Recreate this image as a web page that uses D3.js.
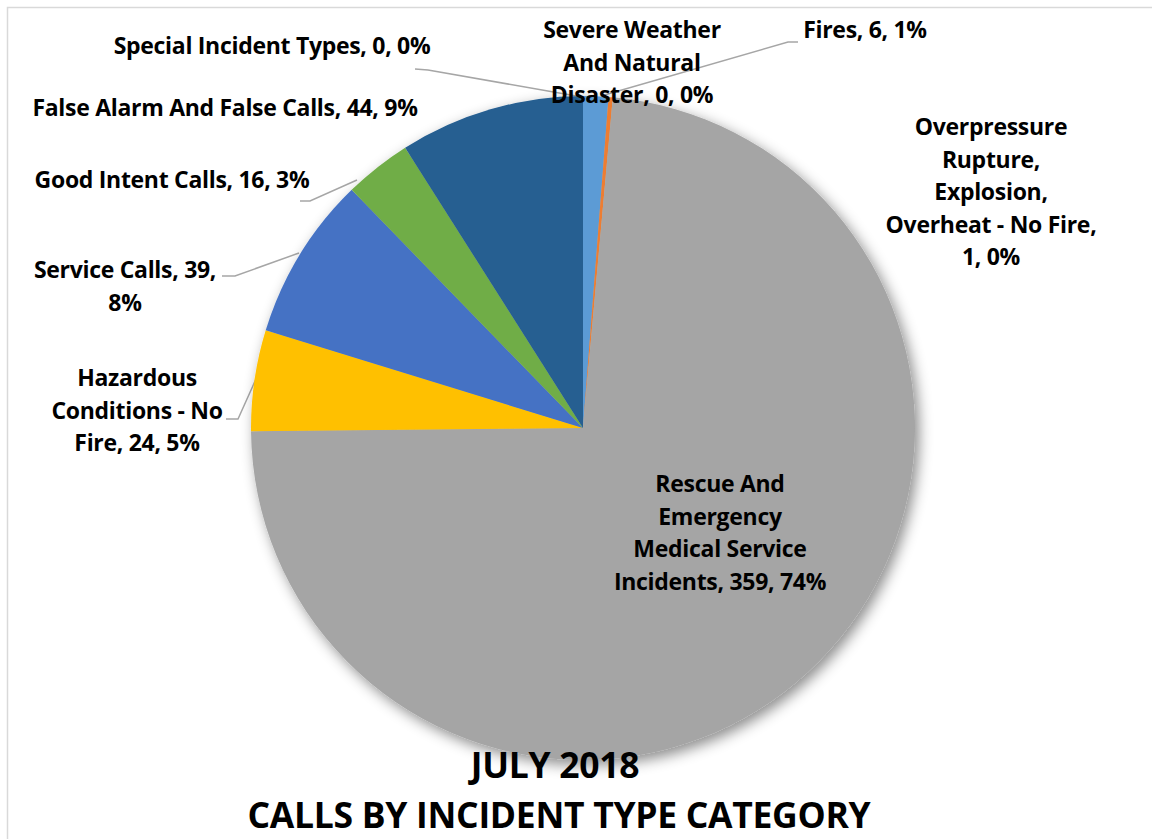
<!DOCTYPE html>
<html><head><meta charset="utf-8">
<script src="https://cdn.jsdelivr.net/npm/d3@7"></script>
<style>
html,body{margin:0;padding:0;background:#fff;}
svg{display:block;}
text{font-family:"Open Sans",sans-serif;font-weight:bold;fill:#000;}
</style></head>
<body>
<svg id="chart" width="1152" height="839"></svg>
<script>
// ---- data ----
const categories = ["Fires","Overpressure Rupture, Explosion, Overheat - No Fire","Rescue And Emergency Medical Service Incidents","Hazardous Conditions - No Fire","Service Calls","Good Intent Calls","False Alarm And False Calls","Special Incident Types","Severe Weather And Natural Disaster"];
const values = [6, 1, 359, 24, 39, 16, 44, 0, 0];
const percentLabels = ["1%","0%","74%","5%","8%","3%","9%","0%","0%"];
const colors = ["#5B9BD5","#ED7D31","#A5A5A5","#FFC000","#4472C4","#70AD47","#255E91","#9E480E","#636363"];
const titleLines = ["JULY 2018","CALLS BY INCIDENT TYPE CATEGORY"];

// ---- label layout (positions only) ----
const labelLayout = [
  {lines:["Fires, 6, 1%"], x:865, y:38, leader:[[798,42],[788,42],[601,96]]},
  {lines:["Overpressure","Rupture,","Explosion,","Overheat - No Fire,","1, 0%"], x:991, y:135, leader:null},
  {lines:["Rescue And","Emergency","Medical Service","Incidents, 359, 74%"], x:720, y:492, leader:null},
  {lines:["Hazardous","Conditions - No","Fire, 24, 5%"], x:137, y:386, leader:[[226,419],[238,419],[256,379]]},
  {lines:["Service Calls, 39,","8%"], x:125, y:278, leader:[[222,276],[235,276],[299,253]]},
  {lines:["Good Intent Calls, 16, 3%"], x:172, y:188, leader:[[300,201],[310,201],[357,180]]},
  {lines:["False Alarm And False Calls, 44, 9%"], x:225, y:116, leader:null},
  {lines:["Special Incident Types, 0, 0%"], x:272, y:54, leader:[[415,69],[428,70],[582,97]]},
  {lines:["Severe Weather","And Natural","Disaster, 0, 0%"], x:632, y:38, leader:null}
];

const svg = d3.select("#chart");
const W = 1152, H = 839;
const cx = 583, cy = 428, R = 332;

svg.append("rect").attr("x",7.5).attr("y",7.5).attr("width",W+10).attr("height",H+10)
  .attr("fill","#fff").attr("stroke","#d9d9d9").attr("stroke-width",1.5);

const defs = svg.append("defs");
const f = defs.append("filter").attr("id","shadow").attr("x","-20%").attr("y","-20%").attr("width","140%").attr("height","140%");
f.append("feDropShadow").attr("dx",4).attr("dy",5).attr("stdDeviation",7).attr("flood-color","#000").attr("flood-opacity",0.45);

const pie = d3.pie().sort(null).value(d=>d)(values);
const arc = d3.arc().innerRadius(0).outerRadius(R);

const gLeaders = svg.append("g");
labelLayout.forEach(l=>{
  if(!l.leader) return;
  gLeaders.append("path").attr("d", d3.line()(l.leader))
    .attr("fill","none").attr("stroke","#a6a6a6").attr("stroke-width",1.5);
});

const gPie = svg.append("g").attr("transform",`translate(${cx},${cy})`).attr("filter","url(#shadow)");
gPie.selectAll("path").data(pie).join("path")
  .attr("d",arc).attr("fill",(d,i)=>colors[i]);

const lineH = 32.5;
const gLabels = svg.append("g");
labelLayout.forEach((l,i)=>{
  const t = gLabels.append("text").attr("text-anchor","middle").attr("font-size",23).attr("letter-spacing",-0.3);
  l.lines.forEach((s,j)=>{
    t.append("tspan").attr("x",l.x).attr("y",l.y + j*lineH).text(s);
  });
});

svg.append("text").attr("x",555).attr("y",778).attr("text-anchor","middle").attr("font-size",35.5).attr("letter-spacing",-0.3).text(titleLines[0]);
svg.append("text").attr("x",559).attr("y",828).attr("text-anchor","middle").attr("font-size",35.5).attr("letter-spacing",-0.3).text(titleLines[1]);
</script>
</body></html>
